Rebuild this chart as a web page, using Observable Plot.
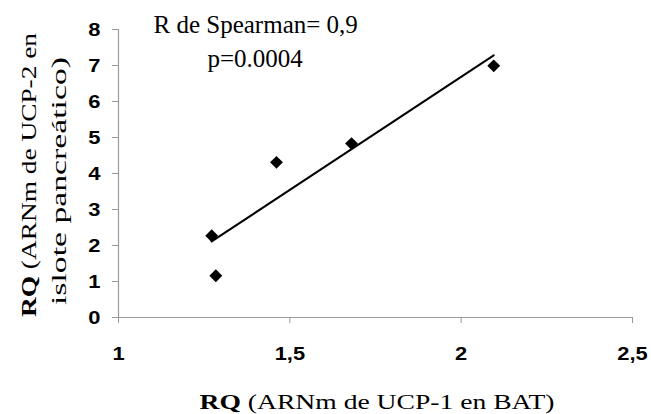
<!DOCTYPE html>
<html><head><meta charset="utf-8">
<script src="https://cdn.jsdelivr.net/npm/d3@7"></script>
<script src="https://cdn.jsdelivr.net/npm/@observablehq/plot@0.6"></script>
<style>body{margin:0;background:#fff}</style>
</head><body><div id="chart"></div>
<script>
// RQ of UCP-1 mRNA in BAT (x) vs RQ of UCP-2 mRNA in pancreatic islet (y)
const ucp1 = [1.272, 1.284, 1.461, 1.680, 2.095];
const ucp2 = [2.27, 1.16, 4.31, 4.83, 6.99];
const xTicks = [1, 1.5, 2, 2.5];
const yTicks = [0, 1, 2, 3, 4, 5, 6, 7, 8];
const statLines = ["R de Spearman= 0,9", "p=0.0004"];
const xTitle = ["RQ", " (ARNm de UCP-1 en BAT)"];
const yTitle1 = ["RQ", " (ARNm de UCP-2 en"];
const yTitle2 = "islote pancreático)";

const pts = ucp1.map((x, i) => ({x, y: ucp2[i]}));
const fmt = d => String(d).replace(".", ",");
const axisColor = "#9a9a9a";
const tickFont = {fontFamily: "Liberation Sans", fontWeight: "bold", fontSize: 19};
const serif = "Liberation Serif";

const chart = Plot.plot({
  width: 651, height: 414,
  marginLeft: 118, marginRight: 19, marginTop: 29, marginBottom: 97,
  x: {domain: [1, 2.5], ticks: xTicks},
  y: {domain: [0, 8], ticks: yTicks},
  style: {background: "#fff", color: "#000", overflow: "visible"},
  marks: [
    Plot.ruleY([0], {stroke: axisColor, strokeWidth: 1.2}),
    Plot.ruleX([1], {stroke: axisColor, strokeWidth: 1.2}),
    Plot.axisX({ticks: xTicks, tickSize: 6, tickPadding: 23, stroke: axisColor, tickFormat: fmt, label: null, ...tickFont, fill: "#000"}),
    Plot.axisY({ticks: yTicks, tickSize: 6, tickPadding: 12, stroke: axisColor, label: null, ...tickFont, fill: "#000"}),
    Plot.linearRegressionY(pts, {x: "x", y: "y", ci: 0, stroke: "#000", strokeWidth: 2}),
    Plot.dot(pts, {x: "x", y: "y", symbol: "diamond2", r: 5.8, fill: "#000", stroke: "none"}),
    Plot.text([statLines[0]], {text: d => d, frameAnchor: "top-left", textAnchor: "start", lineAnchor: "bottom", dx: 35, dy: 3, fontFamily: serif, fontSize: 25, fill: "#000"}),
    Plot.text([statLines[1]], {text: d => d, frameAnchor: "top-left", textAnchor: "start", lineAnchor: "bottom", dx: 89, dy: 37, fontFamily: serif, fontSize: 25, fill: "#000"})
  ]
});
document.getElementById("chart").appendChild(chart);

const svg = d3.select(chart);
// widen tick labels to match the reference's broad bold face
svg.selectAll("g[aria-label*='tick label'] text").each(function() {
  const w = this.getComputedTextLength();
  if (w > 0) {
    this.setAttribute("textLength", (w * 1.15).toFixed(1));
    this.setAttribute("lengthAdjust", "spacingAndGlyphs");
  }
});
// x title
const xt = svg.append("text").attr("x", 377).attr("y", 409).attr("text-anchor", "middle")
  .attr("font-family", serif).attr("font-size", 20).attr("fill", "#000")
  .attr("textLength", 355).attr("lengthAdjust", "spacingAndGlyphs");
xt.append("tspan").attr("font-weight", "bold").text(xTitle[0]);
xt.append("tspan").text(xTitle[1]);
// y title (two lines)
const yt = svg.append("text").attr("transform", "translate(36,175) rotate(-90)").attr("text-anchor", "middle")
  .attr("font-family", serif).attr("font-size", 20).attr("fill", "#000")
  .attr("textLength", 284).attr("lengthAdjust", "spacingAndGlyphs");
yt.append("tspan").attr("font-weight", "bold").text(yTitle1[0]);
yt.append("tspan").text(yTitle1[1]);
svg.append("text").attr("transform", "translate(66,181) rotate(-90)").attr("text-anchor", "middle")
  .attr("font-family", serif).attr("font-size", 20).attr("fill", "#000")
  .attr("textLength", 248).attr("lengthAdjust", "spacingAndGlyphs").text(yTitle2);
</script></body></html>
